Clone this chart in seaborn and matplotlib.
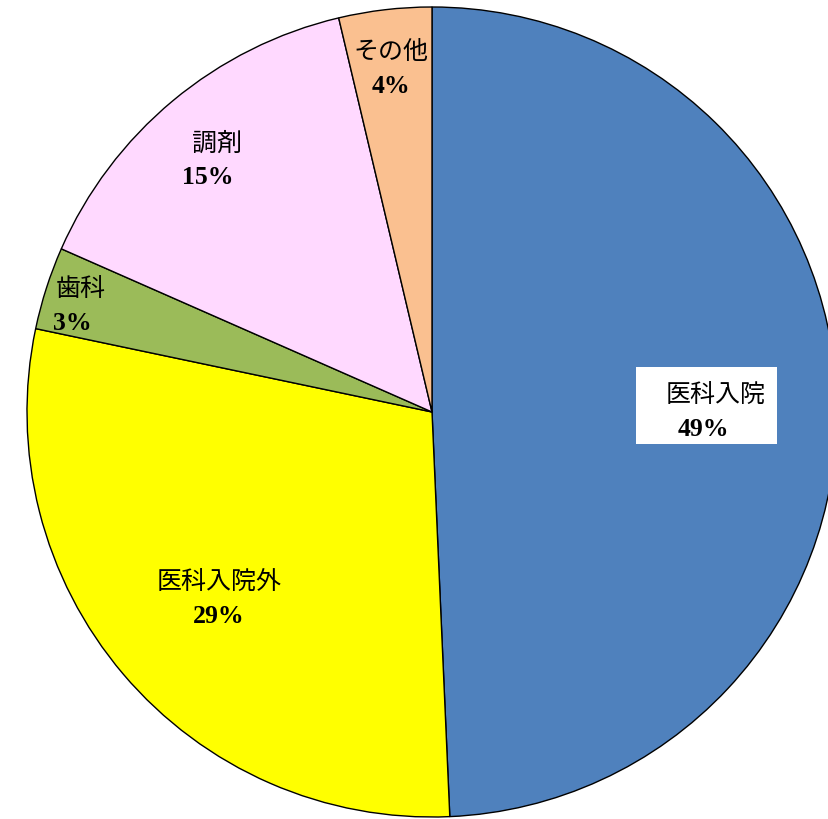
import matplotlib
matplotlib.use("Agg")
import matplotlib.pyplot as plt
import seaborn as sns
import numpy as np
from matplotlib.patches import Rectangle

sns.set_theme(style="white")
plt.rcParams['font.family'] = ['Noto Sans CJK JP', 'DejaVu Sans']
plt.rcParams['text.color'] = 'black'

categories = ["医科入院", "医科入院外", "歯科", "調剤", "その他"]
values = [49.3, 29.0, 3.3, 14.7, 3.7]
colors = ["#4F81BD", "#FFFF00", "#9BBB59", "#FFD9FF", "#FAC090"]
label_radius = [0.69, 0.69, 0.91, 0.83, 0.87]

W, H = 829, 819
fig = plt.figure(figsize=(W / 100, H / 100), dpi=100)
ax = fig.add_axes([0, 0, 1, 1])

cx, cy, R = 432, H - 412, 405
wedges, _ = ax.pie(values, colors=colors, startangle=90, counterclock=False,
                   center=(cx, cy), radius=R, frame=True,
                   wedgeprops=dict(edgecolor="black", linewidth=1.0))
ax.set_xlim(0, W)
ax.set_ylim(0, H)
ax.set_aspect("equal")
ax.axis("off")

total = sum(values)
cum = 0.0
for i, (name, v) in enumerate(zip(categories, values)):
    mid = 90 - 360 * (cum + v / 2) / total
    cum += v
    a = np.deg2rad(mid)
    x = cx + label_radius[i] * R * np.cos(a)
    y = cy + label_radius[i] * R * np.sin(a) - 4
    pct = f"{round(v / total * 100):.0f}%"
    if i == 0:
        ax.add_patch(Rectangle((x - 75, y - 34), 141, 77, facecolor="white",
                               edgecolor="none", zorder=3))
    dx_pct = -8 if i == 0 else (-9 if i in (2, 3) else 0)
    ax.text(x + (4 if i == 0 else 0), y + 14, name, ha="center", va="center",
            fontsize=18, color="black", zorder=4)
    ax.text(x + dx_pct, y - 20, pct, ha="center", va="center", fontsize=18.5,
            fontweight="bold", family="Liberation Serif", color="black", zorder=4)

fig.savefig("out.png", dpi=100)
